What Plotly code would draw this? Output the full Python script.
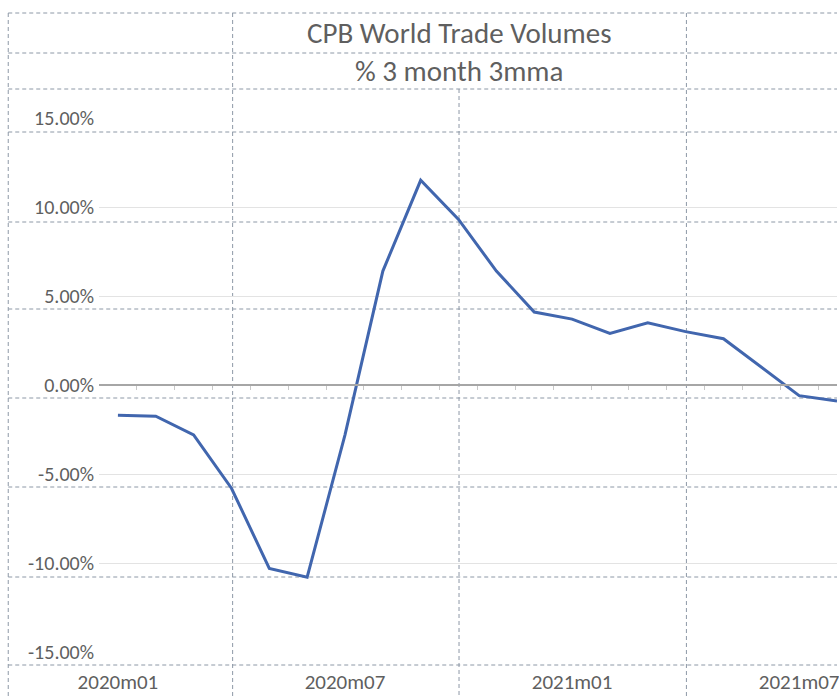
import plotly.graph_objects as go

# ---- data ----
months = ["2020m01", "2020m02", "2020m03", "2020m04", "2020m05", "2020m06",
          "2020m07", "2020m08", "2020m09", "2020m10", "2020m11", "2020m12",
          "2021m01", "2021m02", "2021m03", "2021m04", "2021m05", "2021m06",
          "2021m07", "2021m08"]
growth_pct = [-1.7, -1.75, -2.8, -5.8, -10.3, -10.8,
              -2.8, 6.4, 11.5, 9.3, 6.4, 4.1,
              3.7, 2.9, 3.5, 3.0, 2.6, 1.0,
              -0.6, -0.9]
x_tick_labels = ["2020m01", "2020m07", "2021m01", "2021m07"]
y_tick_values = [-15, -10, -5, 0, 5, 10, 15]
y_tick_labels = ["-15.00%", "-10.00%", "-5.00%", "0.00%", "5.00%", "10.00%", "15.00%"]

title_main = "CPB World Trade Volumes"
title_sub = "% 3 month 3mma"

# ---- layout constants (figure pixels) ----
W, H = 839, 698
L, R, T, B = 99, 0, 118, 46
pw, ph = W - L - R, H - T - B

def px(xp):
    return (xp - L) / pw

def py(yp):
    return (H - B - yp) / ph

idx = list(range(len(months)))
tick_idx = [months.index(m) for m in x_tick_labels]

fig = go.Figure()
fig.add_trace(go.Scatter(
    x=idx, y=growth_pct, mode="lines",
    line=dict(color="#4166AE", width=3),
    showlegend=False, hoverinfo="skip", xaxis="x", yaxis="y"))

# invisible trace for the zero-crossing axis (month tick marks)
fig.add_trace(go.Scatter(x=[idx[0]], y=[None], xaxis="x2", yaxis="y",
                         showlegend=False, hoverinfo="skip"))

# spreadsheet cell grid (dashed) behind the chart
cell_cols = [8, 233, 460, 688]
cell_rows = [13, 53, 89, 132, 222, 309, 398, 487, 577, 665]
shapes = []
dash_style = dict(color="#8D98A6", width=1, dash="4px,3px")
for c in cell_cols:
    y_top = 89 if c == 460 else 13
    shapes.append(dict(type="line", xref="paper", yref="paper",
                       x0=px(c), x1=px(c), y0=py(y_top), y1=py(H),
                       line=dash_style, layer="below"))
for r in cell_rows:
    shapes.append(dict(type="line", xref="paper", yref="paper",
                       x0=px(8), x1=px(W), y0=py(r), y1=py(r),
                       line=dash_style, layer="below"))

font_family = "Carlito, Calibri, 'Liberation Sans Narrow', 'Open Sans', sans-serif"
txt_color = "#5F5F5F"

fig.update_layout(
    width=W, height=H,
    margin=dict(l=L, r=R, t=T, b=B, pad=0),
    paper_bgcolor="white", plot_bgcolor="rgba(0,0,0,0)",
    font=dict(family=font_family, color=txt_color, size=20),
    shapes=shapes,
    xaxis=dict(range=[-0.5, 19.0], tickmode="array", tickvals=tick_idx,
               ticktext=x_tick_labels, showgrid=False, zeroline=False,
               showline=False, ticks="", ticklabelstandoff=15,
               ticklabeloverflow="allow",
               tickfont=dict(size=21, color=txt_color)),
    xaxis2=dict(range=[-0.5, 19.0], overlaying="x", anchor="free",
                position=0.5, showline=True, linecolor="#A6A6A6", linewidth=2,
                ticks="outside", ticklen=4, tickcolor="#C8C8C8", tickwidth=1,
                tickmode="array", tickvals=[i + 0.5 for i in idx],
                showticklabels=False, showgrid=False, zeroline=False),
    yaxis=dict(range=[-15, 15], tickmode="array", tickvals=y_tick_values,
               ticktext=y_tick_labels, showgrid=True, gridcolor="#E3E3E3",
               gridwidth=1, zeroline=False, showline=False, ticks="",
               ticklabelstandoff=4, tickfont=dict(size=20, color=txt_color)),
    annotations=[
        dict(text=title_main, xref="paper", yref="paper", x=px(460), y=py(33),
             showarrow=False, xanchor="center", yanchor="middle",
             font=dict(size=29, color=txt_color, family=font_family)),
        dict(text=title_sub, xref="paper", yref="paper", x=px(460), y=py(71),
             showarrow=False, xanchor="center", yanchor="middle",
             font=dict(size=29, color=txt_color, family=font_family)),
    ],
)

fig.write_html("out.html")
